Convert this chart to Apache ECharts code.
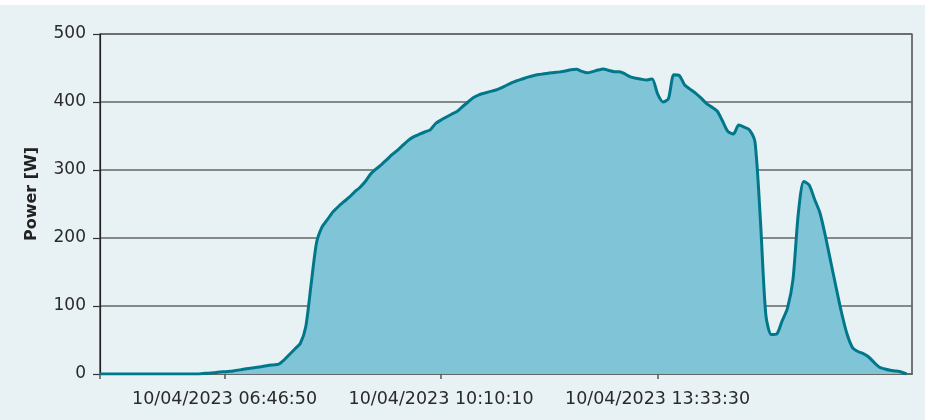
<!DOCTYPE html>
<html>
<head>
<meta charset="utf-8">
<script src="https://cdn.jsdelivr.net/npm/echarts@6/dist/echarts.min.js"></script>
<style>
  html, body { margin: 0; padding: 0; background: #ffffff; }
  #chart { position: absolute; left: 0; top: 5px; width: 925px; height: 415px; background: #e8f1f4; }
</style>
</head>
<body>
<div id="chart"></div>
<script>
// ---- data ----
const datePrefix = '10/04/2023';
const startTime = '04:49:55';      // first sample
const stepSeconds = 305;           // logger interval
const tickLabels = ['10/04/2023 06:46:50', '10/04/2023 10:10:10', '10/04/2023 13:33:30'];
const yTicks = [0, 100, 200, 300, 400, 500];
const power = [
  0, 0, 0, 0, 0, 0, 0, 0, 0, 0,
  0, 0, 0, 0, 0, 0, 0, 0, 0, 0.7,
  1.2, 1.9, 2.9, 3.4, 4, 5.1, 6.3, 7.6, 8.7, 9.9,
  11, 12.4, 13.4, 14.4, 20.6, 28.7, 36.8, 44.9, 69, 132,
  193, 216, 227, 238, 246, 253, 259.6, 267.6, 274.3, 283,
  294, 301.5, 308, 315.4, 322.8, 329.4, 336.8, 344, 349, 352.6,
  355.9, 359, 368.4, 373.5, 378, 382.4, 386.3, 393.4, 400, 406.6,
  410.6, 413, 415.3, 417.2, 420.3, 424.3, 428, 431.3, 433.8, 436.5,
  438.7, 440.4, 441.5, 442.5, 443.4, 444.3, 445.7, 447.4, 448, 445.1,
  443, 444.7, 447, 448.5, 446.3, 444.6, 444.6, 441.2, 436.8, 435,
  433.5, 432.4, 434, 411.8, 400, 404.7, 440, 439, 425, 419,
  413, 406, 398, 392.6, 386.8, 372, 356.6, 353, 366, 363,
  358.8, 341, 226, 86.8, 58, 58.8, 78, 97, 138, 236,
  283, 278, 257, 236.8, 203, 164.7, 126.5, 89.7, 58.8, 39,
  33, 30, 25, 17, 9.8, 7.4, 5.4, 4.4, 3, 0,
  null
];

// ---- categories (timestamps of the samples) ----
function pad(n) { return String(n).padStart(2, '0'); }
const [h0, m0, s0] = startTime.split(':').map(Number);
const t0 = h0 * 3600 + m0 * 60 + s0;
const categories = power.map((_, i) => {
  const t = t0 + i * stepSeconds;
  return datePrefix + ' ' + pad(Math.floor(t / 3600)) + ':' + pad(Math.floor(t / 60) % 60) + ':' + pad(t % 60);
});
const labelSet = new Set(tickLabels);

const chart = echarts.init(document.getElementById('chart'), null, { renderer: 'canvas' });
const font = 'DejaVu Sans';
chart.setOption({
  backgroundColor: '#e8f1f4',
  animation: false,
  grid: { left: 100, right: 13, top: 29, bottom: 46, show: true, borderColor: '#222', borderWidth: 1.2 },
  xAxis: {
    type: 'category',
    data: categories,
    boundaryGap: false,
    axisLine: { lineStyle: { color: '#666', width: 2 } },
    axisTick: {
      show: true, length: 5, lineStyle: { color: '#555', width: 1.5 },
      interval: (i, v) => i === 0 || labelSet.has(v)
    },
    axisLabel: {
      interval: (i, v) => labelSet.has(v),
      color: '#2a2a2a', fontFamily: font, fontSize: 17.5, margin: 16
    },
    splitLine: { show: false }
  },
  yAxis: {
    type: 'value',
    min: yTicks[0], max: yTicks[yTicks.length - 1], interval: 100,
    axisLine: { show: true, lineStyle: { color: '#222', width: 1.2 } },
    axisTick: { show: true, length: 7, lineStyle: { color: '#333', width: 1.2 } },
    axisLabel: { color: '#2a2a2a', fontFamily: font, fontSize: 17, margin: 14 },
    splitLine: { show: true, lineStyle: { color: '#666', width: 1.5 } }
  },
  graphic: [{
    type: 'text',
    left: 24, top: 142,
    rotation: Math.PI / 2,
    style: { text: 'Power [W]', font: 'bold 16px "DejaVu Sans"', fill: '#222' }
  }],
  series: [{
    type: 'line',
    data: power,
    symbol: 'none',
    smooth: 0.25,
    connectNulls: false,
    lineStyle: { color: '#00788a', width: 3 },
    areaStyle: { color: '#80c4d7', opacity: 1 },
    z: 3
  }]
});
</script>
</body>
</html>
